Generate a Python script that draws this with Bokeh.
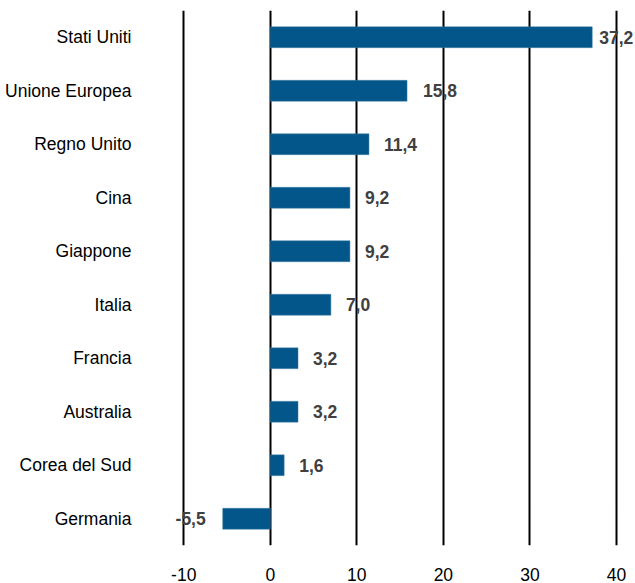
from bokeh.plotting import figure
from bokeh.models import ColumnDataSource, FactorRange, FixedTicker, CustomJSTickFormatter
from bokeh.core.properties import value
from bokeh.embed import file_html
from bokeh.resources import INLINE

categories = ["Stati Uniti", "Unione Europea", "Regno Unito", "Cina", "Giappone",
              "Italia", "Francia", "Australia", "Corea del Sud", "Germania"]
values = [37.2, 15.8, 11.4, 9.2, 9.2, 7.0, 3.2, 3.2, 1.6, -5.5]
value_labels = ["37,2", "15,8", "11,4", "9,2", "9,2", "7,0", "3,2", "3,2", "1,6", "-5,5"]
x_ticks = [-10, 0, 10, 20, 30, 40]

# label placement (style, pixels)
label_offsets = [7, 16, 15, 15, 15, 15, 15, 15, 15, -17]

FONT = "'Liberation Sans', Arial, sans-serif"

src = ColumnDataSource(dict(
    cat=categories,
    val=values,
    lab=value_labels,
    off=label_offsets,
    align=["left" if v >= 0 else "right" for v in values],
))

p = figure(width=635, height=583, output_backend="svg", toolbar_location=None,
           y_range=FactorRange(*reversed(categories), range_padding=0),
           x_range=(-15.0, 42.2),
           min_border_left=140, min_border_right=0, min_border_top=10, min_border_bottom=37)
p.outline_line_color = None
p.background_fill_color = "white"
p.border_fill_color = "white"

p.hbar(y="cat", left=0, right="val", height=0.39, source=src,
       fill_color="#02568A", line_color="#3F7EAA", line_width=0.5)

p.text(x="val", y="cat", text="lab", x_offset="off", text_align="align",
       text_baseline="middle", source=src, text_font=value(FONT),
       text_font_style="bold", text_font_size="17.5px", text_color="#404040")

p.xaxis.ticker = FixedTicker(ticks=x_ticks)
p.xaxis.formatter = CustomJSTickFormatter(code="return String(tick);")
p.xaxis.axis_line_color = None
p.xaxis.major_tick_line_color = None
p.xaxis.minor_tick_line_color = None
p.xaxis.major_label_text_font = FONT
p.xaxis.major_label_text_font_size = "17.5px"
p.xaxis.major_label_text_color = "#000000"
p.xaxis.major_label_standoff = 16

p.yaxis.axis_line_color = None
p.yaxis.major_tick_line_color = None
p.yaxis.major_label_text_font = FONT
p.yaxis.major_label_text_font_size = "17.5px"
p.yaxis.major_label_text_color = "#000000"
p.yaxis.major_label_standoff = 3

p.xgrid.ticker = FixedTicker(ticks=x_ticks)
p.xgrid.grid_line_color = "#000000"
p.xgrid.grid_line_width = 2
p.ygrid.grid_line_color = None

open("out.html", "w").write(file_html(p, INLINE))
